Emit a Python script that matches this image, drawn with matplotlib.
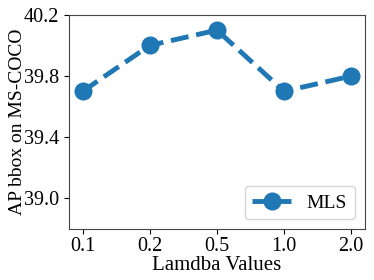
import matplotlib
matplotlib.use('Agg')
import matplotlib.pyplot as plt

lambdas = ['0.1', '0.2', '0.5', '1.0', '2.0']
ap_bbox = [39.7, 40.0, 40.1, 39.7, 39.8]
yticks = [39.0, 39.4, 39.8, 40.2]

plt.rcParams['font.family'] = ['Liberation Serif', 'DejaVu Serif']

fig = plt.figure(figsize=(3.74, 2.8), dpi=100)
ax = fig.add_axes([0.185, 0.182, 0.79, 0.765])
x = list(range(len(lambdas)))
ax.plot(x, ap_bbox, '--o', color='#1f77b4', lw=3.5, markersize=12,
        label='MLS')

ax.set_xticks(x)
ax.set_xticklabels(lambdas)
ax.set_yticks(yticks)
ax.set_yticklabels(['%.1f' % v for v in yticks])
ax.set_xlim(-0.2, 4.2)
ax.set_ylim(38.8, 40.2)
ax.tick_params(labelsize=14.5)
ax.tick_params(axis='x', pad=2)
ax.set_xlabel('Lamdba Values', fontsize=15, labelpad=0)
ax.set_ylabel('AP bbox on MS-COCO', fontsize=14, labelpad=-1.5)
for s in ax.spines.values():
    s.set_color('#444444')
ax.legend(loc='lower right', fontsize=14, handlelength=2.0)

plt.savefig('out.png', dpi=100)
